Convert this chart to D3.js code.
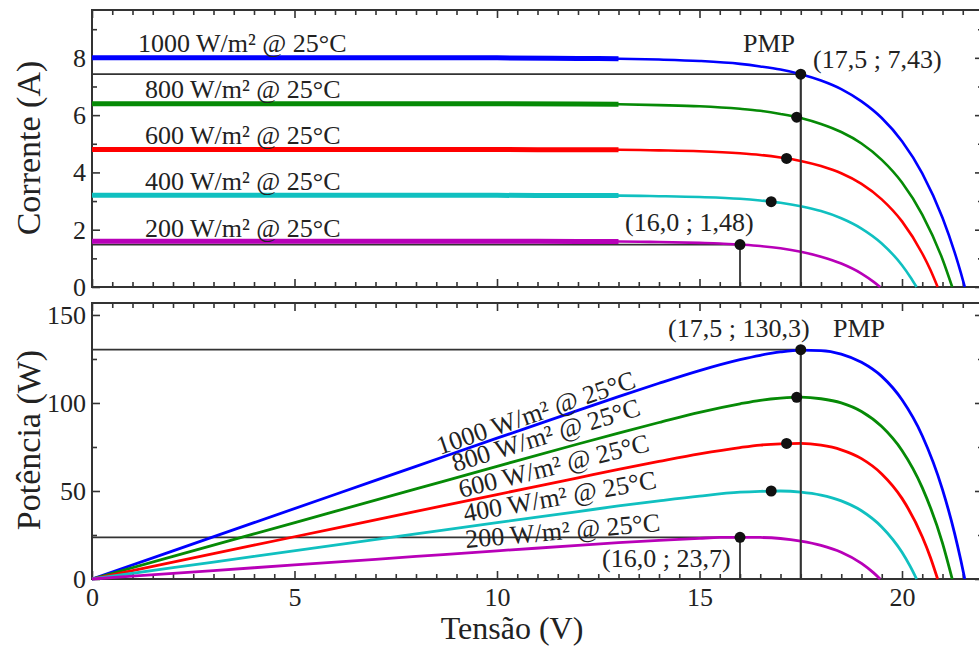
<!DOCTYPE html>
<html>
<head>
<meta charset="utf-8">
<script src="https://cdn.jsdelivr.net/npm/d3@7"></script>
<style>
body { margin: 0; background: #fff; }
text { font-family: 'Liberation Serif', 'Times New Roman', serif; fill: #222; }
</style>
</head>
<body>
<svg width="979" height="646"></svg>
<script>
// irradiance levels (all @ 25°C)
const irradiance = ["1000", "800", "600", "400", "200"];

// voltage samples (V)
const v1000 = [0, 2, 4, 6, 8, 10, 12, 13, 14, 15, 16, 16.5, 17, 17.5, 18, 18.5, 19, 19.5, 20, 20.5, 21, 21.3, 21.45, 21.55];
const v800 = [0, 2, 4, 6, 8, 10, 12, 13, 14, 15, 16, 16.5, 17, 17.5, 18, 18.5, 19, 19.5, 20, 20.5, 21, 21.24];
const v600 = [0, 2, 4, 6, 8, 10, 12, 13, 14, 15, 16, 16.5, 17, 17.5, 18, 18.5, 19, 19.5, 20, 20.5, 20.7, 20.88];
const v400 = [0, 2, 4, 6, 8, 10, 12, 13, 14, 15, 16, 16.5, 17, 17.5, 18, 18.5, 19, 19.5, 20, 20.2, 20.36];
const v200 = [0, 2, 4, 6, 8, 10, 12, 13, 14, 15, 15.5, 16, 16.5, 17, 17.5, 18, 18.5, 19, 19.3, 19.46];

// current (A)
const i1000 = [8.0, 8.0, 8.0, 8.0, 8.0, 8.0, 7.98, 7.97, 7.94, 7.89, 7.79, 7.70, 7.59, 7.43, 7.21, 6.91, 6.48, 5.90, 5.09, 3.97, 2.42, 1.21, 0.51, 0];
const i800 = [6.4, 6.4, 6.4, 6.4, 6.4, 6.4, 6.39, 6.38, 6.35, 6.31, 6.22, 6.15, 6.04, 5.90, 5.69, 5.41, 5.01, 4.44, 3.65, 2.53, 0.97, 0];
const i600 = [4.8, 4.8, 4.8, 4.8, 4.8, 4.8, 4.79, 4.79, 4.77, 4.74, 4.67, 4.61, 4.52, 4.40, 4.22, 3.97, 3.60, 3.06, 2.29, 1.17, 0.6, 0];
const i400 = [3.2, 3.2, 3.2, 3.2, 3.2, 3.2, 3.19, 3.19, 3.17, 3.14, 3.08, 3.02, 2.94, 2.82, 2.65, 2.40, 2.04, 1.52, 0.76, 0.36, 0];
const i200 = [1.6, 1.6, 1.6, 1.6, 1.6, 1.6, 1.59, 1.59, 1.57, 1.54, 1.52, 1.48, 1.43, 1.35, 1.23, 1.06, 0.82, 0.47, 0.18, 0];

// power (W)
const p1000 = [0, 16, 32, 48, 64, 80, 95.8, 103.6, 111.2, 118.4, 124.6, 127.1, 129.0, 130.0, 129.8, 127.8, 123.1, 115.1, 101.8, 81.4, 50.8, 25.8, 10.9, 0];
const p800 = [0, 12.8, 25.6, 38.4, 51.2, 64, 76.7, 82.9, 88.9, 94.7, 99.5, 101.5, 102.7, 103.3, 102.4, 100.1, 95.2, 86.6, 73.0, 51.9, 20.4, 0];
const p600 = [0, 9.6, 19.2, 28.8, 38.4, 48, 57.5, 62.3, 66.8, 71.1, 74.7, 76.1, 76.8, 77.0, 76.0, 73.4, 68.4, 59.7, 45.8, 24.0, 12.4, 0];
const p400 = [0, 6.4, 12.8, 19.2, 25.6, 32, 38.3, 41.5, 44.4, 47.1, 49.3, 49.8, 50.0, 49.4, 47.7, 44.4, 38.8, 29.6, 15.2, 7.3, 0];
const p200 = [0, 3.2, 6.4, 9.6, 12.8, 16, 19.1, 20.7, 22.0, 23.1, 23.6, 23.7, 23.6, 23.0, 21.5, 19.1, 15.2, 8.9, 3.5, 0];

// maximum power points
const mppV = [17.5, 17.4, 17.15, 16.77, 16.0];
const mppI = [7.43, 5.93, 4.49, 2.98, 1.48];
const mppP = [130.3, 103.2, 77.0, 50.0, 23.7];

// tick labels
const xTicks = [0, 5, 10, 15, 20];
const iTicks = [0, 2, 4, 6, 8];
const pTicks = [0, 50, 100, 150];

const colors = ["#0000ff", "#068a06", "#ff0000", "#10c0c0", "#b800b8"];
const volts = [v1000, v800, v600, v400, v200];
const amps = [i1000, i800, i600, i400, i200];
const watts = [p1000, p800, p600, p400, p200];

let svg = d3.select("svg");

// scales
let x = d3.scaleLinear().domain([0, 22]).range([92, 983]);
let yI = d3.scaleLinear().domain([0, 9.67]).range([287, 10]);
let yP = d3.scaleLinear().domain([0, 156.8]).range([579, 303]);

let series = irradiance.map((g, k) => ({
    label: g + " W/m² @ 25°C",
    color: colors[k],
    iv: volts[k].map((v, j) => [v, amps[k][j]]),
    pv: volts[k].map((v, j) => [v, watts[k][j]])
}));

const ink = "#333";

// --------------- //
// AXES + FRAMES //
// --------------- //
function drawFrame(y, major, minor, fmt) {
    let g = svg.append("g");
    let xMinor = d3.range(0, 22.01, 0.5).filter(d => d % 5 !== 0);

    // bottom
    g.append("g").attr("transform", `translate(0,${y.range()[0]})`)
        .call(d3.axisBottom(x).tickValues(xMinor).tickSizeInner(-5).tickSizeOuter(0).tickFormat(""));
    g.append("g").attr("transform", `translate(0,${y.range()[0]})`)
        .call(d3.axisBottom(x).tickValues(xTicks).tickSizeInner(-8).tickSizeOuter(0).tickPadding(9).tickFormat(fmt ? d3.format("d") : ""));
    // top
    g.append("g").attr("transform", `translate(0,${y.range()[1]})`)
        .call(d3.axisTop(x).tickValues(xMinor).tickSizeInner(-5).tickSizeOuter(0).tickFormat(""));
    g.append("g").attr("transform", `translate(0,${y.range()[1]})`)
        .call(d3.axisTop(x).tickValues(xTicks).tickSizeInner(-8).tickSizeOuter(0).tickFormat(""));
    // left
    g.append("g").attr("transform", `translate(${x(0)},0)`)
        .call(d3.axisLeft(y).tickValues(minor).tickSizeInner(-5).tickSizeOuter(0).tickFormat(""));
    g.append("g").attr("transform", `translate(${x(0)},0)`)
        .call(d3.axisLeft(y).tickValues(major).tickSizeInner(-8).tickSizeOuter(0).tickPadding(6));
    // right
    g.append("g").attr("transform", `translate(${x(22)},0)`)
        .call(d3.axisRight(y).tickValues(minor).tickSizeInner(-5).tickSizeOuter(0).tickFormat(""));
    g.append("g").attr("transform", `translate(${x(22)},0)`)
        .call(d3.axisRight(y).tickValues(major).tickSizeInner(-8).tickSizeOuter(0).tickFormat(""));

    g.selectAll(".domain").remove();
    g.selectAll(".tick line").attr("stroke", ink).attr("stroke-width", 1.6);
    g.selectAll("text").style("font-size", "26px").style("font-family", "'Liberation Serif', serif").attr("fill", "#222");

    g.append("rect")
        .attr("x", x(0)).attr("y", y.range()[1])
        .attr("width", x(22) - x(0)).attr("height", y.range()[0] - y.range()[1])
        .attr("fill", "none").attr("stroke", ink).attr("stroke-width", 2);
}

drawFrame(yI, iTicks, [1, 3, 5, 7, 9], false);
drawFrame(yP, pTicks, [25, 75, 125], true);

// --------------- //
// REFERENCE LINES //
// --------------- //
function refLines(y, vals) {
    [0, 4].forEach(k => {
        svg.append("path")
            .attr("d", `M${x(0)},${y(vals[k])}H${x(mppV[k])}V${y(0)}`)
            .attr("fill", "none").attr("stroke", ink).attr("stroke-width", 1.8);
    });
}
refLines(yI, mppI);
refLines(yP, mppP);

// --------------- //
// CURVES //
// --------------- //
let lineI = d3.line().x(d => x(d[0])).y(d => yI(d[1])).curve(d3.curveMonotoneX);
let lineP = d3.line().x(d => x(d[0])).y(d => yP(d[1])).curve(d3.curveMonotoneX);

// thick flat part of the I-V curves
svg.append("g").selectAll("path")
    .data(series).enter().append("path")
    .attr("d", d => lineI(d.iv.filter(p => p[0] <= 13)))
    .attr("fill", "none").attr("stroke", d => d.color).attr("stroke-width", 5);

svg.append("g").selectAll("path")
    .data(series).enter().append("path")
    .attr("d", d => lineI(d.iv))
    .attr("fill", "none").attr("stroke", d => d.color).attr("stroke-width", 2.6);

svg.append("g").selectAll("path")
    .data(series).enter().append("path")
    .attr("d", d => lineP(d.pv))
    .attr("fill", "none").attr("stroke", d => d.color).attr("stroke-width", 2.8);

// vertical PMP line over the curves
svg.append("line").attr("x1", x(17.5)).attr("x2", x(17.5)).attr("y1", yI(7.43)).attr("y2", yI(0))
    .attr("stroke", ink).attr("stroke-width", 1.8);
svg.append("line").attr("x1", x(17.5)).attr("x2", x(17.5)).attr("y1", yP(130.3)).attr("y2", yP(0))
    .attr("stroke", ink).attr("stroke-width", 1.8);

// MPP dots
svg.append("g").selectAll("circle")
    .data(mppV).enter().append("circle")
    .attr("cx", d => x(d)).attr("cy", (d, k) => yI(mppI[k])).attr("r", 5.5).attr("fill", "#111");
svg.append("g").selectAll("circle")
    .data(mppV).enter().append("circle")
    .attr("cx", d => x(d)).attr("cy", (d, k) => yP(mppP[k])).attr("r", 5.5).attr("fill", "#111");

// --------------- //
// LABELS //
// --------------- //
const topLabelPos = [[138, 52], [145, 98], [145, 144], [145, 190], [145, 237]];
svg.append("g").selectAll("text")
    .data(series).enter().append("text")
    .attr("x", (d, k) => topLabelPos[k][0]).attr("y", (d, k) => topLabelPos[k][1])
    .style("font-size", "26px")
    .text(d => d.label);

const botLabelPos = [[440, 455, -19], [455, 472, -17], [461, 498, -14], [465, 522, -10], [466, 548, -5]];
svg.append("g").selectAll("text")
    .data(series).enter().append("text")
    .attr("transform", (d, k) => `translate(${botLabelPos[k][0]},${botLabelPos[k][1]}) rotate(${botLabelPos[k][2]})`)
    .style("font-size", "26px")
    .text(d => d.label);

function note(t, px, py, size) {
    svg.append("text").attr("x", px).attr("y", py).style("font-size", size + "px").text(t);
}
note("PMP", 743, 52, 26);
note("(17,5 ; 7,43)", 813, 68, 26);
note("(16,0 ; 1,48)", 625, 231, 26);
note("(17,5 ; 130,3)", 668, 337, 26);
note("PMP", 833, 337, 26);
note("(16,0 ; 23,7)", 602, 567, 26);

// axis titles
svg.append("text")
    .attr("transform", "translate(40,148) rotate(-90)")
    .attr("text-anchor", "middle")
    .style("font-size", "34px")
    .text("Corrente (A)");
svg.append("text")
    .attr("transform", "translate(40,440) rotate(-90)")
    .attr("text-anchor", "middle")
    .style("font-size", "34px")
    .text("Potência (W)");
svg.append("text")
    .attr("x", 512).attr("y", 639)
    .attr("text-anchor", "middle")
    .style("font-size", "32px")
    .text("Tensão (V)");
</script>
</body>
</html>
